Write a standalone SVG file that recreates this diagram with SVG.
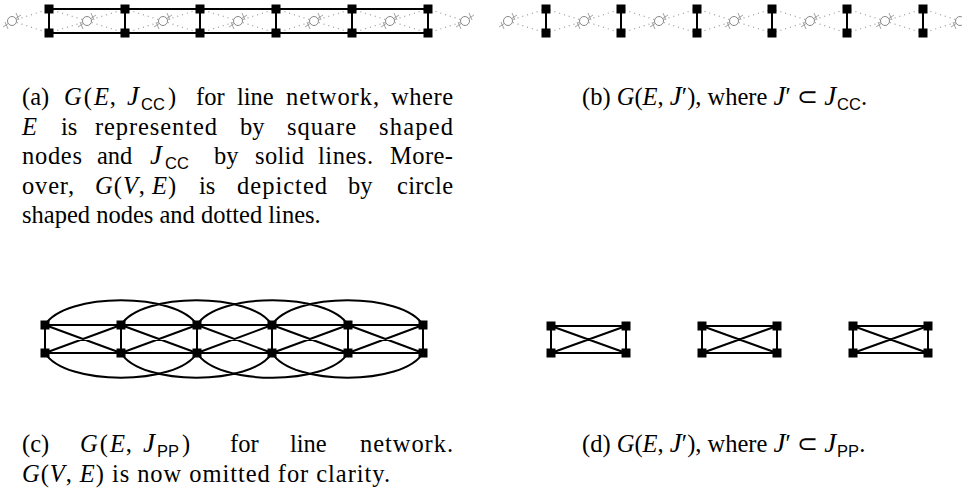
<svg xmlns="http://www.w3.org/2000/svg" xmlns:xlink="http://www.w3.org/1999/xlink" width="962" height="492" viewBox="0 0 962 492">
<style>
.t{font-family:"Liberation Serif",serif;font-size:24.5px;fill:#000}
.i{font-style:italic}
.j{font-style:italic;font-size:27px}
.s{font-family:"Liberation Sans",sans-serif;font-size:16.5px}
.e{stroke:#000;stroke-width:2;fill:none}
.d{stroke:#999;stroke-width:1.2;stroke-dasharray:1 4;fill:none}
.sq{fill:#000}
.cc{fill:#fff;stroke:#888;stroke-width:1}
.ck{stroke:#999;stroke-width:0.9;fill:none}
</style>
<defs>
<rect id="sq" class="sq" x="-4.5" y="-4.5" width="9" height="9"/>
<g id="cir">
<path class="ck" d="M-9,6 L9,-6 M-7,1 L-4,8 M4,-8 L7,-1"/>
<circle class="cc" cx="0" cy="0" r="4.5"/>
</g>
</defs>

<!-- (a) -->
<g id="conn-a">
<path class="d" d="M12,21L49,9M12,21L49,33
M87,21L49,9M87,21L49,33M87,21L125,9M87,21L125,33
M163,21L125,9M163,21L125,33M163,21L200,9M163,21L200,33
M238,21L200,9M238,21L200,33M238,21L276,9M238,21L276,33
M314,21L276,9M314,21L276,33M314,21L352,9M314,21L352,33
M390,21L352,9M390,21L352,33M390,21L428,9M390,21L428,33
M465,21L428,9M465,21L428,33"/>
<path class="e" d="M49,9V33M125,9V33M200,9V33M276,9V33M352,9V33M428,9V33M49,9H428M49,33H428"/>
</g>
<g id="nodes-a">
<g id="a-v0"><use xlink:href="#cir" x="12" y="21"/></g>
<g id="a-v1"><use xlink:href="#cir" x="87" y="21"/></g>
<g id="a-v2"><use xlink:href="#cir" x="163" y="21"/></g>
<g id="a-v3"><use xlink:href="#cir" x="238" y="21"/></g>
<g id="a-v4"><use xlink:href="#cir" x="314" y="21"/></g>
<g id="a-v5"><use xlink:href="#cir" x="390" y="21"/></g>
<g id="a-v6"><use xlink:href="#cir" x="465" y="21"/></g>
<g id="a-t0"><use xlink:href="#sq" x="49" y="9"/></g><g id="a-b0"><use xlink:href="#sq" x="49" y="33"/></g>
<g id="a-t1"><use xlink:href="#sq" x="125" y="9"/></g><g id="a-b1"><use xlink:href="#sq" x="125" y="33"/></g>
<g id="a-t2"><use xlink:href="#sq" x="200" y="9"/></g><g id="a-b2"><use xlink:href="#sq" x="200" y="33"/></g>
<g id="a-t3"><use xlink:href="#sq" x="276" y="9"/></g><g id="a-b3"><use xlink:href="#sq" x="276" y="33"/></g>
<g id="a-t4"><use xlink:href="#sq" x="352" y="9"/></g><g id="a-b4"><use xlink:href="#sq" x="352" y="33"/></g>
<g id="a-t5"><use xlink:href="#sq" x="428" y="9"/></g><g id="a-b5"><use xlink:href="#sq" x="428" y="33"/></g>
</g>

<!-- (b) -->
<g id="conn-b">
<path class="d" d="M508,21L546,9M508,21L546,33
M584,21L546,9M584,21L546,33M584,21L621,9M584,21L621,33
M659,21L621,9M659,21L621,33M659,21L697,9M659,21L697,33
M734,21L697,9M734,21L697,33M734,21L772,9M734,21L772,33
M810,21L772,9M810,21L772,33M810,21L847,9M810,21L847,33
M885,21L847,9M885,21L847,33M885,21L923,9M885,21L923,33
M960,21L923,9M960,21L923,33"/>
<path class="e" d="M546,9V33M621,9V33M697,9V33M772,9V33M847,9V33M923,9V33"/>
</g>
<g id="nodes-b">
<g id="b-v0"><use xlink:href="#cir" x="508" y="21"/></g>
<g id="b-v1"><use xlink:href="#cir" x="584" y="21"/></g>
<g id="b-v2"><use xlink:href="#cir" x="659" y="21"/></g>
<g id="b-v3"><use xlink:href="#cir" x="734" y="21"/></g>
<g id="b-v4"><use xlink:href="#cir" x="810" y="21"/></g>
<g id="b-v5"><use xlink:href="#cir" x="885" y="21"/></g>
<g id="b-v6"><use xlink:href="#cir" x="960" y="21"/></g>
<g id="b-t0"><use xlink:href="#sq" x="546" y="9"/></g><g id="b-b0"><use xlink:href="#sq" x="546" y="33"/></g>
<g id="b-t1"><use xlink:href="#sq" x="621" y="9"/></g><g id="b-b1"><use xlink:href="#sq" x="621" y="33"/></g>
<g id="b-t2"><use xlink:href="#sq" x="697" y="9"/></g><g id="b-b2"><use xlink:href="#sq" x="697" y="33"/></g>
<g id="b-t3"><use xlink:href="#sq" x="772" y="9"/></g><g id="b-b3"><use xlink:href="#sq" x="772" y="33"/></g>
<g id="b-t4"><use xlink:href="#sq" x="847" y="9"/></g><g id="b-b4"><use xlink:href="#sq" x="847" y="33"/></g>
<g id="b-t5"><use xlink:href="#sq" x="923" y="9"/></g><g id="b-b5"><use xlink:href="#sq" x="923" y="33"/></g>
</g>

<!-- (c) -->
<g id="conn-c">
<path class="e" d="M45,325V353M121,325V353M197,325V353M272,325V353M348,325V353M423,325V353
M45,325H423M45,353H423
M45,325L121,353M45,353L121,325M121,325L197,353M121,353L197,325M197,325L272,353M197,353L272,325
M272,325L348,353M272,353L348,325M348,325L423,353M348,353L423,325
M45,325C65,292 177,292 197,325M121,325C141,292 252,292 272,325M197,325C217,292 328,292 348,325M272,325C292,292 403,292 423,325
M45,353C65,386 177,386 197,353M121,353C141,386 252,386 272,353M197,353C217,386 328,386 348,353M272,353C292,386 403,386 423,353"/>
</g>
<g id="nodes-c">
<g id="c-t0"><use xlink:href="#sq" x="45" y="325"/></g><g id="c-b0"><use xlink:href="#sq" x="45" y="353"/></g>
<g id="c-t1"><use xlink:href="#sq" x="121" y="325"/></g><g id="c-b1"><use xlink:href="#sq" x="121" y="353"/></g>
<g id="c-t2"><use xlink:href="#sq" x="197" y="325"/></g><g id="c-b2"><use xlink:href="#sq" x="197" y="353"/></g>
<g id="c-t3"><use xlink:href="#sq" x="272" y="325"/></g><g id="c-b3"><use xlink:href="#sq" x="272" y="353"/></g>
<g id="c-t4"><use xlink:href="#sq" x="348" y="325"/></g><g id="c-b4"><use xlink:href="#sq" x="348" y="353"/></g>
<g id="c-t5"><use xlink:href="#sq" x="423" y="325"/></g><g id="c-b5"><use xlink:href="#sq" x="423" y="353"/></g>
</g>

<!-- (d) -->
<g id="conn-d">
<path class="e" d="M551,326H626V353H551ZM551,326L626,353M551,353L626,326
M702,326H777V353H702ZM702,326L777,353M702,353L777,326
M853,326H928V353H853ZM853,326L928,353M853,353L928,326"/>
</g>
<g id="nodes-d">
<g id="d-t0"><use xlink:href="#sq" x="551" y="326"/></g><g id="d-b0"><use xlink:href="#sq" x="551" y="353"/></g>
<g id="d-t1"><use xlink:href="#sq" x="626" y="326"/></g><g id="d-b1"><use xlink:href="#sq" x="626" y="353"/></g>
<g id="d-t2"><use xlink:href="#sq" x="702" y="326"/></g><g id="d-b2"><use xlink:href="#sq" x="702" y="353"/></g>
<g id="d-t3"><use xlink:href="#sq" x="777" y="326"/></g><g id="d-b3"><use xlink:href="#sq" x="777" y="353"/></g>
<g id="d-t4"><use xlink:href="#sq" x="853" y="326"/></g><g id="d-b4"><use xlink:href="#sq" x="853" y="353"/></g>
<g id="d-t5"><use xlink:href="#sq" x="928" y="326"/></g><g id="d-b5"><use xlink:href="#sq" x="928" y="353"/></g>
</g>

<!-- captions -->
<g id="cap-a">
<text class="t" y="105"><tspan x="22">(a)</tspan><tspan x="64"><tspan class="i">G</tspan><tspan dx="2">(</tspan><tspan class="i" dx="2">E</tspan><tspan dx="1">,</tspan> <tspan class="j" dx="5">J</tspan><tspan class="s" dx="2" dy="5">CC</tspan><tspan dx="3" dy="-5">)</tspan></tspan><tspan x="196">for</tspan><tspan x="237">line</tspan><tspan x="286" textLength="93" lengthAdjust="spacing">network,</tspan><tspan x="391" textLength="62" lengthAdjust="spacing">where</tspan></text>
<text class="t" y="134.5"><tspan x="22" class="i">E</tspan><tspan x="61">is</tspan><tspan x="95" textLength="122" lengthAdjust="spacing">represented</tspan><tspan x="240">by</tspan><tspan x="287" textLength="69" lengthAdjust="spacing">square</tspan><tspan x="379" textLength="74" lengthAdjust="spacing">shaped</tspan></text>
<text class="t" y="164"><tspan x="22" textLength="60" lengthAdjust="spacing">nodes</tspan><tspan x="97">and</tspan><tspan x="150" class="j">J</tspan><tspan class="s" dx="3" dy="5">CC</tspan><tspan x="214" dy="-5">by</tspan><tspan x="255" textLength="49" lengthAdjust="spacing">solid</tspan><tspan x="318" textLength="55" lengthAdjust="spacing">lines.</tspan><tspan x="390" textLength="63" lengthAdjust="spacing">More-</tspan></text>
<text class="t" y="193.5"><tspan x="22" textLength="52" lengthAdjust="spacing">over,</tspan><tspan x="95"><tspan class="i">G</tspan><tspan dx="1">(</tspan><tspan class="i" dx="1">V</tspan><tspan dx="1">,</tspan> <tspan class="i" dx="1">E</tspan><tspan dx="1">)</tspan></tspan><tspan x="199">is</tspan><tspan x="237" textLength="90" lengthAdjust="spacing">depicted</tspan><tspan x="348">by</tspan><tspan x="397" textLength="56" lengthAdjust="spacing">circle</tspan></text>
<text class="t" x="22" y="223">shaped nodes and dotted lines.</text>
</g>
<g id="cap-b">
<text class="t" x="582" y="105">(b) <tspan class="i">G</tspan>(<tspan class="i">E</tspan>, <tspan class="j">J</tspan>′), where <tspan class="j">J</tspan>′ ⊂ <tspan class="j">J</tspan><tspan class="s" dx="1" dy="5">CC</tspan><tspan dy="-5">.</tspan></text>
</g>
<g id="cap-c">
<text class="t" y="452"><tspan x="22">(c)</tspan><tspan x="80"><tspan class="i">G</tspan><tspan dx="2">(</tspan><tspan class="i" dx="2">E</tspan><tspan dx="1">,</tspan> <tspan class="j" dx="5">J</tspan><tspan class="s" dx="2" dy="5">PP</tspan><tspan dx="3" dy="-5">)</tspan></tspan><tspan x="230">for</tspan><tspan x="290">line</tspan><tspan x="360" textLength="93" lengthAdjust="spacing">network.</tspan></text>
<text class="t" x="22" y="481.5" textLength="368" lengthAdjust="spacing"><tspan class="i">G</tspan>(<tspan class="i">V</tspan>, <tspan class="i">E</tspan>) is now omitted for clarity.</text>
</g>
<g id="cap-d">
<text class="t" x="582" y="452">(d) <tspan class="i">G</tspan>(<tspan class="i">E</tspan>, <tspan class="j">J</tspan>′), where <tspan class="j">J</tspan>′ ⊂ <tspan class="j">J</tspan><tspan class="s" dx="1" dy="5">PP</tspan><tspan dy="-5">.</tspan></text>
</g>
</svg>
